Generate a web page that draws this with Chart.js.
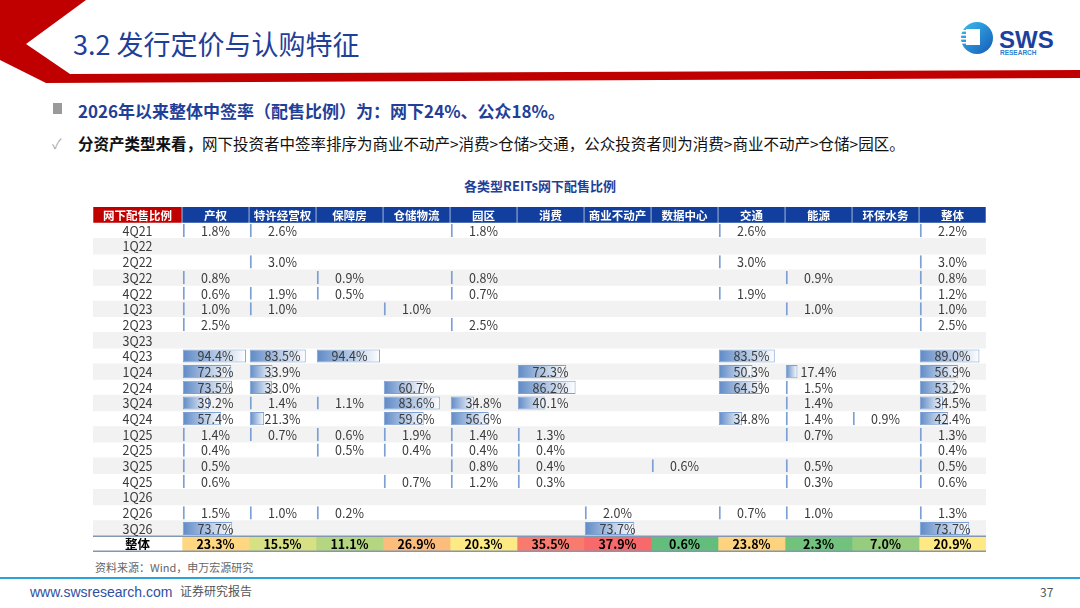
<!DOCTYPE html>
<html lang="zh">
<head>
<meta charset="utf-8">
<script src="https://cdn.jsdelivr.net/npm/chart.js@4.4.1/dist/chart.umd.min.js"></script>
<style>
html, body { margin: 0; padding: 0; background: #fff; }
#slide { position: relative; width: 1080px; height: 608px; overflow: hidden; font-family: "Noto Sans CJK SC", "Noto Sans", sans-serif; }
.abs { position: absolute; white-space: nowrap; }
#title { left: 73px; top: 28px; font-size: 27px; line-height: 31px; color: #1f3f98; }
#b1 { left: 78px; top: 100px; font-size: 17px; line-height: 22px; font-weight: bold; color: #1f3f98; }
#b1m { left: 53px; top: 103px; width: 9px; height: 11px; background: #9a9a9a; }
#b2 { left: 78px; top: 133px; font-size: 15.5px; line-height: 20px; color: #111; }
#b2m { left: 52px; top: 133px; font-size: 14px; color: #aaa; }
#ctitle { left: 0; width: 1080px; top: 177px; text-align: center; font-size: 13px; line-height: 18px; font-weight: bold; color: #1f3f98; }
#tableWrap { position: absolute; left: 93px; top: 207px; width: 893px; height: 345px; }
#source { left: 95px; top: 559px; font-size: 11px; line-height: 16px; color: #666; }
#footline { position: absolute; left: 0; top: 577px; width: 1080px; height: 2px; background: #2aa3da; }
#url { left: 30px; top: 583px; font-size: 14px; line-height: 18px; color: #2f4f9f; font-family: "Liberation Sans", Arial, sans-serif; }
#report { left: 180px; top: 583px; font-size: 12px; line-height: 16px; color: #555; }
#page { left: 1040px; top: 583px; font-size: 12px; line-height: 18px; color: #555; }
</style>
</head>
<body>
<div id="slide">
  <svg class="abs" style="left:0;top:0" width="1080" height="90">
    <polygon points="0,0 86,0 26,44 70,74 1080,70 1080,78 46,83 0,60" fill="#c00000"/>
    <defs>
      <linearGradient id="lg" x1="0" y1="0" x2="1" y2="1">
        <stop offset="0" stop-color="#39c0ee"/>
        <stop offset="1" stop-color="#1659b8"/>
      </linearGradient>
    </defs>
    <circle cx="977" cy="38" r="16" fill="url(#lg)"/>
    <rect x="966" y="29" width="14" height="16" fill="#fff"/>
    <rect x="958" y="30" width="9" height="1.6" fill="#fff"/>
    <rect x="958" y="34" width="9" height="1.6" fill="#fff"/>
    <rect x="958" y="38" width="9" height="1.6" fill="#fff"/>
    <rect x="958" y="42" width="9" height="1.6" fill="#fff"/>
    <text x="999" y="48" font-family="Liberation Sans, Arial, sans-serif" font-weight="bold" font-size="24" fill="#1d3f9e">SWS</text>
    <text x="1000" y="55" font-family="Liberation Sans, Arial, sans-serif" font-weight="bold" font-size="6.5" fill="#2a7fd0">RESEARCH</text>
  </svg>
  <div id="title" class="abs">3.2 发行定价与认购特征</div>
  <div id="b1m" class="abs"></div>
  <div id="b1" class="abs">2026年以来整体中签率（配售比例）为：网下24%、公众18%。</div>
  <div id="b2m" class="abs">✓</div>
  <div id="b2" class="abs"><b>分资产类型来看，</b>网下投资者中签率排序为商业不动产&gt;消费&gt;仓储&gt;交通，公众投资者则为消费&gt;商业不动产&gt;仓储&gt;园区。</div>
  <div id="ctitle" class="abs">各类型REITs网下配售比例</div>
  <div id="tableWrap"><canvas id="tbl"></canvas></div>
  <div id="source" class="abs">资料来源：Wind，申万宏源研究</div>
  <div id="footline"></div>
  <div id="url" class="abs">www.swsresearch.com</div>
  <div id="report" class="abs">证券研究报告</div>
  <div id="page" class="abs">37</div>
</div>
<script>
/* ---------- 数据 ---------- */
const CORNER_LABEL = "网下配售比例";
const TOTAL_LABEL = "整体";
const QUARTERS = ["4Q21","1Q22","2Q22","3Q22","4Q22","1Q23","2Q23","3Q23","4Q23","1Q24",
                  "2Q24","3Q24","4Q24","1Q25","2Q25","3Q25","4Q25","1Q26","2Q26","3Q26"];
const CATEGORIES = ["产权","特许经营权","保障房","仓储物流","园区","消费","商业不动产","数据中心","交通","能源","环保水务","整体"];

const CHANQUAN  = [1.8,null,null,0.8,0.6,1.0,2.5,null,94.4,72.3,73.5,39.2,57.4,1.4,0.4,0.5,0.6,null,1.5,73.7];
const TEXU      = [2.6,null,3.0,null,1.9,1.0,null,null,83.5,33.9,33.0,1.4,21.3,0.7,null,null,null,null,1.0,null];
const BAOZHANG  = [null,null,null,0.9,0.5,null,null,null,94.4,null,null,1.1,null,0.6,0.5,null,null,null,0.2,null];
const CANGCHU   = [null,null,null,null,null,1.0,null,null,null,null,60.7,83.6,59.6,1.9,0.4,null,0.7,null,null,null];
const YUANQU    = [1.8,null,null,0.8,0.7,null,2.5,null,null,null,null,34.8,56.6,1.4,0.4,0.8,1.2,null,null,null];
const XIAOFEI   = [null,null,null,null,null,null,null,null,null,72.3,86.2,40.1,null,1.3,0.4,0.4,0.3,null,null,null];
const SHANGYE   = [null,null,null,null,null,null,null,null,null,null,null,null,null,null,null,null,null,null,2.0,73.7];
const SHUJU     = [null,null,null,null,null,null,null,null,null,null,null,null,null,null,null,0.6,null,null,null,null];
const JIAOTONG  = [2.6,null,3.0,null,1.9,null,null,null,83.5,50.3,64.5,null,34.8,null,null,null,null,null,0.7,null];
const NENGYUAN  = [null,null,null,0.9,null,1.0,null,null,null,17.4,1.5,1.4,1.4,0.7,null,0.5,0.3,null,1.0,null];
const HUANBAO   = [null,null,null,null,null,null,null,null,null,null,null,null,0.9,null,null,null,null,null,null,null];
const ZHENGTI   = [2.2,null,3.0,0.8,1.2,1.0,2.5,null,89.0,56.9,53.2,34.5,42.4,1.3,0.4,0.5,0.6,null,1.3,73.7];

const TOTALS = [23.3,15.5,11.1,26.9,20.3,35.5,37.9,0.6,23.8,2.3,7.0,20.9];

const COLUMNS = [CHANQUAN, TEXU, BAOZHANG, CANGCHU, YUANQU, XIAOFEI, SHANGYE, SHUJU, JIAOTONG, NENGYUAN, HUANBAO, ZHENGTI];

/* ---------- 布局 ---------- */
const FIRST_COL = -89 / 67;               // 首列宽度（以数据列宽为单位）
const ROWS = ["header", ...QUARTERS, "total"];
const N = ROWS.length;
const HEAD_BLUE = "#123f9e";
const HEAD_RED = "#c00000";
const BAR_BLUE = "#5f8ac6";
const FONT = '"Noto Sans CJK SC", "Noto Sans", sans-serif';

/* Excel 三色刻度：绿-黄-红 */
function colorScale(v, arr) {
    const s = [...arr].sort((a, b) => a - b);
    const min = s[0], max = s[s.length - 1];
    const mid = (s[(s.length - 1) >> 1] + s[s.length >> 1]) / 2;
    const G = [99, 190, 123], Y = [255, 235, 132], R = [248, 105, 107];
    let a, b, t;
    if (v <= mid) { a = G; b = Y; t = (v - min) / (mid - min); }
    else { a = Y; b = R; t = (v - mid) / (max - mid); }
    const c = a.map((x, i) => Math.round(x + (b[i] - x) * t));
    return `rgb(${c[0]},${c[1]},${c[2]})`;
}

function emptyRow() { return new Array(N).fill(null); }

/* 斑马纹 */
const stripeData = ROWS.map((r, i) => (i >= 2 && i <= 20 && i % 2 === 0) ? [FIRST_COL, 12] : null);

const datasets = [{
    data: stripeData,
    backgroundColor: "#f2f2f2",
    categoryPercentage: 1, barPercentage: 1,
    grouped: false, order: 10
}];

/* 表头与合计单元格 */
for (let j = -1; j < 12; j++) {
    const x0 = j < 0 ? FIRST_COL : j;
    const x1 = j < 0 ? 0 : j + 1;
    const d = emptyRow();
    d[0] = [x0, x1];
    d[N - 1] = [x0, x1];
    datasets.push({
        data: d,
        backgroundColor: c => {
            if (c.dataIndex === 0) return j < 0 ? HEAD_RED : HEAD_BLUE;
            return j < 0 ? "#ffffff" : colorScale(TOTALS[j], TOTALS);
        },
        borderColor: "#ffffff",
        borderWidth: c => c.dataIndex === 0 ? { left: 0.6, right: 0.6, top: 0, bottom: 0 } : 0,
        borderSkipped: false,
        categoryPercentage: 1, barPercentage: 1,
        grouped: false, order: 5
    });
}

/* 数据条 */
COLUMNS.forEach((col, j) => {
    const d = emptyRow();
    col.forEach((v, i) => {
        if (v !== null) d[i + 1] = [j + 0.012, j + 0.012 + v / 100];
    });
    datasets.push({
        data: d,
        backgroundColor: c => {
            const chart = c.chart;
            const raw = c.raw;
            if (!raw || !chart.chartArea || !chart.scales.x) return BAR_BLUE;
            const xs = chart.scales.x;
            const p0 = xs.getPixelForValue(raw[0]);
            const p1 = Math.max(xs.getPixelForValue(raw[1]), p0 + 2);
            const g = chart.ctx.createLinearGradient(p0, 0, p1, 0);
            g.addColorStop(0, BAR_BLUE);
            g.addColorStop(1, "#ffffff");
            return g;
        },
        borderColor: "#7da0d4",
        borderWidth: 1,
        borderSkipped: false,
        minBarLength: 2,
        categoryPercentage: 0.84, barPercentage: 1,
        grouped: false, order: 1
    });
});

/* 文字与线条 */
const tableText = {
    id: "tableText",
    afterDatasetsDraw(chart) {
        const { ctx, scales: { x, y } } = chart;
        const band = y.getPixelForValue(1) - y.getPixelForValue(0);
        const cx = j => x.getPixelForValue(j < 0 ? FIRST_COL / 2 : j + 0.5);
        ctx.save();
        ctx.textAlign = "center";
        ctx.textBaseline = "middle";

        // 合计行上下线
        const yt = y.getPixelForValue(N - 1) - band / 2;
        const yb = y.getPixelForValue(N - 1) + band / 2;
        ctx.strokeStyle = "#8497b0";
        ctx.lineWidth = 1.5;
        ctx.beginPath();
        ctx.moveTo(x.left, yt); ctx.lineTo(x.right, yt);
        ctx.moveTo(x.left, yb - 0.75); ctx.lineTo(x.right, yb - 0.75);
        ctx.stroke();

        // 表头
        const yh = y.getPixelForValue(0) + 0.5;
        ctx.fillStyle = "#ffffff";
        ctx.font = "bold 11.5px " + FONT;
        ctx.fillText(CORNER_LABEL, cx(-1), yh);
        CATEGORIES.forEach((c, j) => ctx.fillText(c, cx(j), yh));

        // 数据行
        ctx.font = "12.5px " + FONT;
        QUARTERS.forEach((q, i) => {
            const yy = y.getPixelForValue(i + 1) + 0.5;
            ctx.fillStyle = "#3a3a3a";
            ctx.fillText(q, cx(-1), yy);
            COLUMNS.forEach((col, j) => {
                const v = col[i];
                if (v === null) return;
                ctx.fillText(v.toFixed(1) + "%", cx(j), yy);
            });
        });

        // 合计行
        const yz = y.getPixelForValue(N - 1) + 0.5;
        ctx.fillStyle = "#000000";
        ctx.font = "bold 12.5px " + FONT;
        ctx.fillText(TOTAL_LABEL, cx(-1), yz);
        TOTALS.forEach((v, j) => ctx.fillText(v.toFixed(1) + "%", cx(j), yz));
        ctx.restore();
    }
};

new Chart(document.getElementById("tbl"), {
    type: "bar",
    data: { labels: ROWS, datasets },
    options: {
        indexAxis: "y",
        responsive: true,
        maintainAspectRatio: false,
        animation: false,
        layout: { padding: 0 },
        plugins: { legend: { display: false }, tooltip: { enabled: false } },
        scales: {
            x: { type: "linear", min: FIRST_COL, max: 12, display: false },
            y: { type: "category", display: false, offset: true }
        }
    },
    plugins: [tableText]
});
</script>
</body>
</html>
